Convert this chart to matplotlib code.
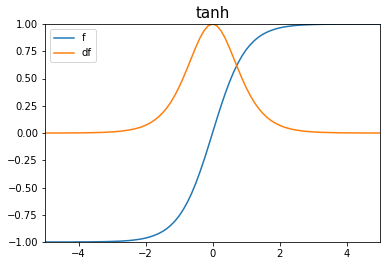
import matplotlib
matplotlib.use("Agg")
import matplotlib.pyplot as plt

# values
x = [-5.0, -4.75, -4.5, -4.25, -4.0, -3.75, -3.5, -3.25, -3.0, -2.75,
     -2.5, -2.375, -2.25, -2.125, -2.0, -1.875, -1.75, -1.625, -1.5, -1.375, -1.25, -1.125,
     -1.0, -0.875, -0.75, -0.625, -0.5, -0.375, -0.25, -0.125,
     0.0, 0.125, 0.25, 0.375, 0.5, 0.625, 0.75, 0.875,
     1.0, 1.125, 1.25, 1.375, 1.5, 1.625, 1.75, 1.875, 2.0, 2.125, 2.25, 2.375, 2.5,
     2.75, 3.0, 3.25, 3.5, 3.75, 4.0, 4.25, 4.5, 4.75, 5.0]

f = [-1.0, -1.0, -1.0, -1.0, -0.999, -0.999, -0.998, -0.997, -0.995, -0.992,
     -0.987, -0.983, -0.978, -0.972, -0.964, -0.954, -0.941, -0.925, -0.905, -0.880, -0.848, -0.809,
     -0.762, -0.704, -0.635, -0.555, -0.462, -0.358, -0.245, -0.124,
     0.0, 0.124, 0.245, 0.358, 0.462, 0.555, 0.635, 0.704,
     0.762, 0.809, 0.848, 0.880, 0.905, 0.925, 0.941, 0.954, 0.964, 0.972, 0.978, 0.983, 0.987,
     0.992, 0.995, 0.997, 0.998, 0.999, 0.999, 1.0, 1.0, 1.0, 1.0]

df = [0.0, 0.0, 0.0, 0.001, 0.001, 0.002, 0.004, 0.006, 0.010, 0.016,
      0.027, 0.034, 0.044, 0.055, 0.071, 0.090, 0.114, 0.144, 0.181, 0.226, 0.280, 0.345,
      0.420, 0.505, 0.597, 0.692, 0.786, 0.872, 0.940, 0.985,
      1.0, 0.985, 0.940, 0.872, 0.786, 0.692, 0.597, 0.505,
      0.420, 0.345, 0.280, 0.226, 0.181, 0.144, 0.114, 0.090, 0.071, 0.055, 0.044, 0.034, 0.027,
      0.016, 0.010, 0.006, 0.004, 0.002, 0.001, 0.001, 0.0, 0.0, 0.0]

fig = plt.figure(figsize=(390 / 72, 266 / 72), dpi=72)
ax = fig.add_axes([45 / 390, 24 / 266, 335 / 390, 218 / 266])

ax.plot(x, f, label="f")
ax.plot(x, df, label="df")
ax.set_xlim(-5, 5)
ax.set_ylim(-1, 1)
ax.set_title("tanh", fontsize=15)
ax.legend(loc="upper left")

fig.savefig("out.png", dpi=72)
plt.close(fig)
